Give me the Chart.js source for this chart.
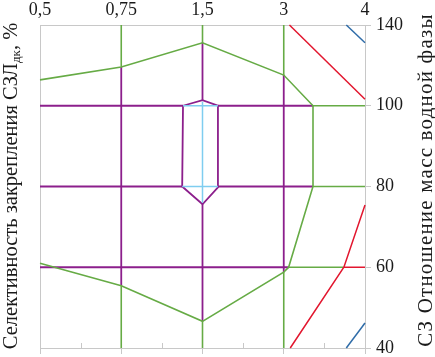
<!DOCTYPE html>
<html>
<head>
<meta charset="utf-8">
<script src="https://cdn.jsdelivr.net/npm/chart.js@4"></script>
<style>
  body { margin: 0; background: #fff; }
  #wrap { width: 435px; height: 357px; }
</style>
</head>
<body>
<div id="wrap"><canvas id="chart" width="435" height="357"></canvas></div>
<script>
// Axis labels (axes are evenly spaced, values below are in axis-step units 0..4)
const xLabels = ['0,5', '0,75', '1,5', '3', '4'];
const yLabels = ['40', '60', '80', '100', '140'];

// Outer green boundary
const greenBoundary = [[0, 3.32], [1, 3.48], [2, 3.78], [3, 3.38], [3.36, 3], [3.36, 2],
                       [3.06, 1], [3, 0.94], [2, 0.33], [1, 0.77], [0, 1.05]];
// Inner magenta hexagon
const hexagon = [[1.76, 3], [2, 3.07], [2.19, 3], [2.19, 1.99], [2, 1.78], [1.75, 2], [1.76, 3]];

// Grid segments inside the boundary (magenta)
const magentaLines = [
    [[1, 3.48], [1, 0.77]],
    [[2, 3.78], [2, 3.07]],
    [[2, 1.78], [2, 0.33]],
    [[3, 3.38], [3, 0.94]],
    [[0, 3], [1.76, 3]],
    [[2.19, 3], [3.36, 3]],
    [[0, 2], [1.75, 2]],
    [[2.19, 2], [3.36, 2]],
    [[0, 1], [3.06, 1]]
];
// Grid segments outside the boundary (green)
const greenLines = [
    [[1, 4], [1, 3.48]],
    [[1, 0.77], [1, 0]],
    [[2, 4], [2, 3.78]],
    [[2, 0.33], [2, 0]],
    [[3, 4], [3, 3.38]],
    [[3, 0.94], [3, 0]],
    [[3.36, 3], [4, 3]],
    [[3.36, 2], [4, 2]],
    [[3.06, 1], [3.74, 1]]
];
// Segments inside the hexagon (light blue)
const cyanLines = [
    [[2, 3.05], [2, 1.8]],
    [[1.76, 3], [2.19, 3]],
    [[1.75, 2], [2.19, 2]]
];
const redLines = [
    [[3.07, 4], [4, 3.08]],
    [[3.08, 0], [3.74, 1], [4, 1.77]],
    [[3.74, 1], [4, 1]]
];
const blueLines = [
    [[3.77, 4], [4, 3.78]],
    [[3.77, 0], [4, 0.31]]
];

const GREEN = '#66ab45', MAGENTA = '#8c1f8c', CYAN = '#7fcdf0', RED = '#e2162e', BLUE = '#2f6ca8';
const FRAME = '#c8c8c8';

function toPts(arr) {
    return arr.map(p => ({ x: p[0], y: p[1] }));
}
function lineSet(pts, color, width) {
    return {
        data: toPts(pts), borderColor: color, borderWidth: width,
        showLine: true, pointRadius: 0, fill: false, tension: 0, clip: false
    };
}

const datasets = [];
blueLines.forEach(l => datasets.push(lineSet(l, BLUE, 1.5)));
redLines.forEach(l => datasets.push(lineSet(l, RED, 1.5)));
cyanLines.forEach(l => datasets.push(lineSet(l, CYAN, 1.5)));
datasets.push(lineSet(hexagon, MAGENTA, 1.8));
datasets.push(lineSet(greenBoundary, GREEN, 1.6));
magentaLines.forEach(l => datasets.push(lineSet(l, MAGENTA, 1.8)));
greenLines.forEach(l => datasets.push(lineSet(l, GREEN, 1.6)));

// Rotated axis titles (with subscript) and minor bottom ticks
const extras = {
    id: 'extras',
    afterDraw(chart) {
        const ctx = chart.ctx;
        const xb = chart.scales.xb;
        const a = chart.chartArea;
        ctx.save();
        ctx.strokeStyle = FRAME;
        ctx.lineWidth = 1;
        for (let v = 0.5; v < 4; v += 1) {
            const px = Math.round(xb.getPixelForValue(v)) + 0.5;
            ctx.beginPath();
            ctx.moveTo(px, a.bottom);
            ctx.lineTo(px, a.bottom - 5);
            ctx.stroke();
        }
        ctx.restore();

        const drawParts = (cx, cy, parts, spacing) => {
            ctx.save();
            ctx.translate(cx, cy);
            ctx.rotate(-Math.PI / 2);
            ctx.fillStyle = '#1a1a1a';
            ctx.textBaseline = 'alphabetic';
            ctx.letterSpacing = spacing + 'px';
            let total = 0;
            parts.forEach(p => {
                ctx.font = p.size + "px 'Liberation Serif', serif";
                p.w = ctx.measureText(p.text).width;
                total += p.w;
            });
            let x = -total / 2;
            parts.forEach(p => {
                ctx.font = p.size + "px 'Liberation Serif', serif";
                ctx.fillText(p.text, x, p.dy || 0);
                x += p.w;
            });
            ctx.restore();
        };
        drawParts(17, 186, [
            { text: 'Селективность закрепления СЗЛ', size: 20.5 },
            { text: 'дк', size: 13, dy: 3 },
            { text: ', %', size: 20.5 }
        ], 0);
        drawParts(432, 180, [{ text: 'СЗ Отношение масс водной фазы', size: 21 }], 1.2);
    }
};

Chart.defaults.font.family = "'Liberation Serif', serif";
Chart.defaults.font.size = 18;
Chart.defaults.color = '#1a1a1a';

function noPad(s) {
    s.paddingTop = 0; s.paddingBottom = 0; s.paddingLeft = 0; s.paddingRight = 0;
}

new Chart(document.getElementById('chart'), {
    type: 'scatter',
    data: { datasets: datasets },
    options: {
        responsive: false,
        animation: false,
        layout: { padding: 0 },
        plugins: { legend: { display: false }, tooltip: { enabled: false } },
        scales: {
            x: {
                type: 'linear', position: 'top', min: 0, max: 4,
                ticks: { stepSize: 1, padding: 4, maxRotation: 0, callback: v => xLabels[v] },
                grid: { drawOnChartArea: false, drawTicks: false },
                border: { color: FRAME, width: 1 },
                afterFit: s => { s.height = 25; noPad(s); }
            },
            xb: {
                type: 'linear', position: 'bottom', min: 0, max: 4,
                ticks: { stepSize: 1, display: false },
                grid: { drawOnChartArea: false, tickLength: 6, color: FRAME },
                border: { color: FRAME, width: 1 },
                afterFit: s => { s.height = 9; noPad(s); }
            },
            y: {
                type: 'linear', position: 'right', min: 0, max: 4,
                ticks: { stepSize: 1, padding: 5, callback: v => yLabels[v] },
                grid: { drawOnChartArea: false, tickLength: 6, color: FRAME },
                border: { color: FRAME, width: 1 },
                afterFit: s => { s.width = 70; noPad(s); }
            },
            yl: {
                type: 'linear', position: 'left', min: 0, max: 4,
                ticks: { display: false },
                grid: { drawOnChartArea: false, drawTicks: false },
                border: { color: FRAME, width: 1 },
                afterFit: s => { s.width = 40; noPad(s); }
            }
        }
    },
    plugins: [extras]
});
</script>
</body>
</html>
